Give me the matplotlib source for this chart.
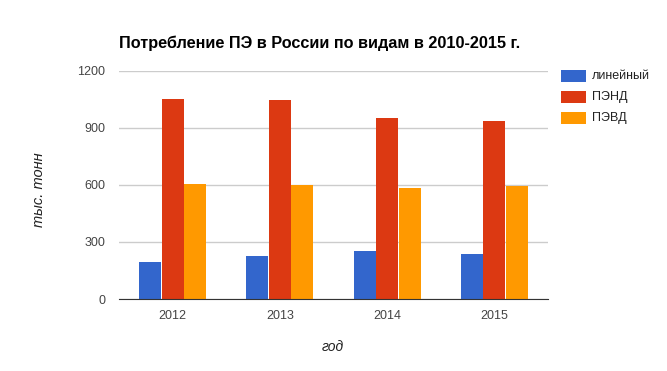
import numpy as np
import matplotlib.pyplot as plt
import matplotlib.patches as patches

# ------------------------------
# Data
# ------------------------------
years = ["2012", "2013", "2014", "2015"]
series_names = ["линейный", "ПЭНД", "ПЭВД"]
linear = [196, 228, 254, 239]
hdpe = [1054, 1049, 954, 939]
ldpe = [607, 602, 586, 596]
y_ticks = [0, 300, 600, 900, 1200]

colors = ["#3366cc", "#dc3912", "#ff9900"]

plt.rcParams['font.family'] = ['Liberation Sans', 'DejaVu Sans']

fig = plt.figure(figsize=(6.67, 3.71), dpi=100)
fig.patch.set_facecolor('white')
W, H = 667, 371
# plot area in pixels: left 119, right 548, top 71, bottom 299
ax = fig.add_axes([119 / W, 1 - 299 / H, (548 - 119) / W, (299 - 71) / H])

x = np.arange(len(years))
bw = 0.205
step = 0.21
for i, (vals, c) in enumerate(zip([linear, hdpe, ldpe], colors)):
    ax.bar(x + (i - 1) * step, vals, width=bw, color=c, zorder=3)

ax.set_xlim(-0.5, len(years) - 0.5)
ax.set_ylim(0, 1200)
ax.set_yticks(y_ticks)
ax.set_yticklabels([str(t) for t in y_ticks])
ax.set_xticks(x)
ax.set_xticklabels(years)
ax.grid(axis='y', color='#cccccc', linewidth=1, zorder=0)
ax.set_axisbelow(True)
for s in ['top', 'right', 'left']:
    ax.spines[s].set_visible(False)
ax.spines['bottom'].set_color('#333333')
ax.spines['bottom'].set_zorder(5)
ax.tick_params(axis='both', length=0, labelsize=9, colors='#444444')
ax.tick_params(axis='y', pad=10)
ax.tick_params(axis='x', pad=8)

fig.text(119 / W, 1 - 43 / H, "Потребление ПЭ в России по видам в 2010-2015 г.",
         fontsize=11.7, fontweight='bold', va='center', ha='left', color='black')
fig.text(39 / W, 1 - 190 / H, "тыс. тонн", rotation=90, fontsize=10.5,
         style='italic', va='center', ha='center', color='#222222')
fig.text(333 / W, 1 - 347 / H, "год", fontsize=10, style='italic',
         va='center', ha='center', color='#222222')

# Legend drawn manually to match layout
for i, (name, c) in enumerate(zip(series_names, colors)):
    yc = 76 + i * 21
    rect = patches.Rectangle((561 / W, 1 - (yc + 6) / H), 25 / W, 12 / H,
                             transform=fig.transFigure, facecolor=c, edgecolor='none')
    fig.patches.append(rect)
    fig.text(592 / W, 1 - yc / H, name, fontsize=9, va='center', ha='left', color='#222222')

fig.savefig("out.png", dpi=100)
